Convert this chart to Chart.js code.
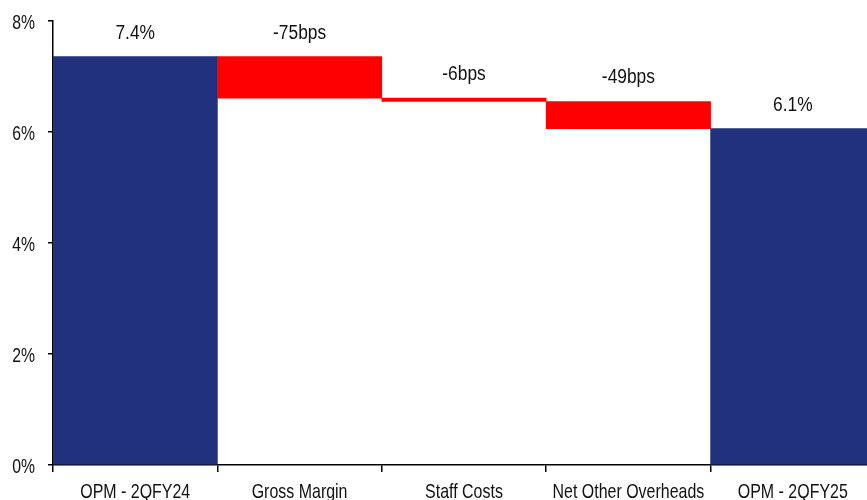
<!DOCTYPE html>
<html>
<head>
<meta charset="utf-8">
<script src="https://cdn.jsdelivr.net/npm/chart.js@4/dist/chart.umd.min.js"></script>
<style>
  html, body { margin: 0; padding: 0; background: #fff; overflow: hidden; }
  #wrap { width: 875px; height: 500px; }
</style>
</head>
<body>
<div id="wrap"><canvas id="chart"></canvas></div>
<script>
// OPM bridge, 2QFY24 -> 2QFY25 (waterfall as floating bars)

const CATEGORIES = ["OPM - 2QFY24", "Gross Margin", "Staff Costs", "Net Other Overheads", "OPM - 2QFY25"];
const BAR_LOW  = [0, 6.61, 6.55, 6.06, 0];
const BAR_HIGH = [7.36, 7.36, 6.61, 6.55, 6.06];
const BAR_LABELS = ["7.4%", "-75bps", "-6bps", "-49bps", "6.1%"];
const Y_TICKS = [0, 2, 4, 6, 8];

const NAVY = "#21317d";
const RED = "#ff0000";
const TEXT = "#111";
const FONT = "'Liberation Sans', Arial, sans-serif";

// the source uses a narrow Arial; squeeze regular Arial horizontally instead
function squeezedText(ctx, text, x, y, sx, align) {
  ctx.save();
  ctx.translate(x, y);
  ctx.scale(sx, 1);
  ctx.textAlign = align;
  ctx.fillText(text, 0, 0);
  ctx.restore();
}

const textLayer = {
  id: "textLayer",
  afterDraw(chart) {
    const ctx = chart.ctx;
    const xs = chart.scales.x;
    const ys = chart.scales.y;
    ctx.save();
    ctx.fillStyle = TEXT;
    ctx.textBaseline = "alphabetic";

    ctx.font = `21px ${FONT}`;
    xs.ticks.forEach((t, i) => {
      squeezedText(ctx, xs.getLabelForValue(t.value), xs.getPixelForTick(i), 498, 0.76, "center");
    });
    ys.ticks.forEach((t) => {
      squeezedText(ctx, `${t.value}%`, 35, ys.getPixelForValue(t.value) + 8, 0.75, "right");
    });

    ctx.font = `19.5px ${FONT}`;
    chart.getDatasetMeta(0).data.forEach((bar, i) => {
      const top = Math.min(bar.y, bar.base);
      squeezedText(ctx, BAR_LABELS[i], bar.x, top - 18, 0.89, "center");
    });
    ctx.restore();
  },
};

new Chart(document.getElementById("chart"), {
  type: "bar",
  data: {
    labels: CATEGORIES,
    datasets: [{
      data: BAR_LOW.map((lo, i) => [lo, BAR_HIGH[i]]),
      backgroundColor: CATEGORIES.map((_, i) => (i === 0 || i === CATEGORIES.length - 1) ? NAVY : RED),
      borderWidth: 0,
      barPercentage: 1,
      categoryPercentage: 1,
    }],
  },
  options: {
    responsive: true,
    maintainAspectRatio: false,
    animation: false,
    layout: { padding: { top: 21, right: 0, bottom: 0, left: 0 } },
    plugins: { legend: { display: false }, tooltip: { enabled: false } },
    scales: {
      x: {
        afterFit: (axis) => { axis.height = 35; },
        grid: { offset: true, drawOnChartArea: false, drawTicks: true, tickLength: 7, color: "#000", lineWidth: 1.5 },
        border: { display: true, color: "#000", width: 1.5 },
        ticks: { display: false, autoSkip: false },
      },
      y: {
        min: 0,
        max: 8,
        afterBuildTicks: (axis) => { axis.ticks = Y_TICKS.map((v) => ({ value: v })); },
        afterFit: (axis) => { axis.width = 53; },
        grid: { drawOnChartArea: false, drawTicks: true, tickLength: 5, color: "#000", lineWidth: 1.5 },
        border: { display: true, color: "#000", width: 1.5 },
        ticks: { display: false },
      },
    },
  },
  plugins: [textLayer],
});
</script>
</body>
</html>
